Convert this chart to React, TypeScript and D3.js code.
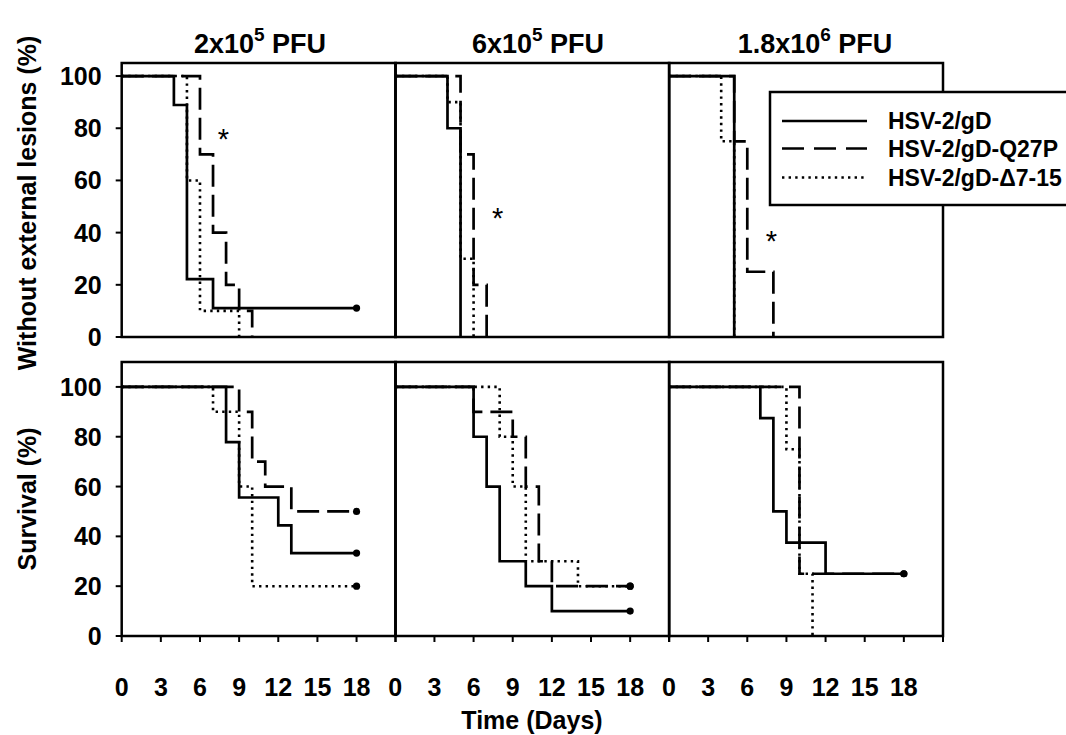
import React from "react";
import * as d3 from "d3";

type Pt = [number, number];

// ---- Column titles (dose) ----
const doseBase = ["2x10", "6x10", "1.8x10"];
const doseExp = ["5", "5", "6"];

// ---- Series names ----
const seriesNames = ["HSV-2/gD", "HSV-2/gD-Q27P", "HSV-2/gD-\u03947-15"];

// ---- Without external lesions (%) ----
const lesion0_gD: Pt[] = [[0, 100], [4, 88.9], [5, 22.2], [7, 11.1], [18, 11.1]];
const lesion0_Q27P: Pt[] = [[0, 100], [6, 70], [7, 40], [8, 20], [9, 10], [10, 0]];
const lesion0_d7: Pt[] = [[0, 100], [5, 60], [6, 10], [9, 0]];
const lesion1_gD: Pt[] = [[0, 100], [4, 80], [5, 0]];
const lesion1_Q27P: Pt[] = [[0, 100], [5, 70], [6, 20], [7, 0]];
const lesion1_d7: Pt[] = [[0, 100], [4, 90], [5, 30], [6, 0]];
const lesion2_gD: Pt[] = [[0, 100], [5, 0]];
const lesion2_Q27P: Pt[] = [[0, 100], [5, 75], [6, 25], [8, 0]];
const lesion2_d7: Pt[] = [[0, 100], [4, 75], [5, 0]];

// ---- Survival (%) ----
const surv0_gD: Pt[] = [[0, 100], [8, 77.8], [9, 55.6], [12, 44.4], [13, 33.3], [18, 33.3]];
const surv0_Q27P: Pt[] = [[0, 100], [9, 90], [10, 70], [11, 60], [13, 50], [18, 50]];
const surv0_d7: Pt[] = [[0, 100], [7, 90], [9, 60], [10, 20], [18, 20]];
const surv1_gD: Pt[] = [[0, 100], [6, 80], [7, 60], [8, 30], [10, 20], [12, 10], [18, 10]];
const surv1_Q27P: Pt[] = [[0, 100], [6, 90], [9, 80], [10, 60], [11, 30], [12, 20], [18, 20]];
const surv1_d7: Pt[] = [[0, 100], [8, 80], [9, 60], [10, 30], [14, 20], [18, 20]];
const surv2_gD: Pt[] = [[0, 100], [7, 87.5], [8, 50], [9, 37.5], [12, 25], [18, 25]];
const surv2_Q27P: Pt[] = [[0, 100], [10, 25], [18, 25]];
const surv2_d7: Pt[] = [[0, 100], [9, 75], [10, 25], [11, 0]];

// significance markers (day, value) in the lesion panels
const asteriskPos: Pt[] = [[7.8, 78], [7.85, 48], [7.85, 39]];

const xTicks = [0, 3, 6, 9, 12, 15, 18];
const yTicks = [0, 20, 40, 60, 80, 100];
const xMax = 21;
const endDay = 18;

const lesionData = [
  [lesion0_gD, lesion0_Q27P, lesion0_d7],
  [lesion1_gD, lesion1_Q27P, lesion1_d7],
  [lesion2_gD, lesion2_Q27P, lesion2_d7],
];
const survData = [
  [surv0_gD, surv0_Q27P, surv0_d7],
  [surv1_gD, surv1_Q27P, surv1_d7],
  [surv2_gD, surv2_Q27P, surv2_d7],
];

const FONT = "'Liberation Sans', Arial, Helvetica, sans-serif";
const styles = [
  { dash: undefined as string | undefined, width: 2.7 },
  { dash: "22,8", width: 2.7 },
  { dash: "2.4,4.2", width: 2.6 },
];

const colX = [121.7, 395.3, 669];
const panelW = 274;
const rows = [
  { top: 63, bottom: 337, yMax: 105, title: "Without external lesions (%)", data: lesionData },
  { top: 362, bottom: 636, yMax: 110, title: "Survival (%)", data: survData },
];

function Panel({ ci, ri }: { ci: number; ri: number }) {
  const row = rows[ri];
  const x = d3.scaleLinear().domain([0, xMax]).range([colX[ci], colX[ci] + panelW]);
  const y = d3.scaleLinear().domain([0, row.yMax]).range([row.bottom, row.top]);
  const line = d3
    .line<Pt>()
    .x((d) => x(d[0]))
    .y((d) => y(d[1]))
    .curve(d3.curveStepAfter);
  const series = row.data[ci];
  const order = [2, 1, 0];
  return (
    <g>
      <rect
        x={x(0)}
        y={y(row.yMax)}
        width={x(xMax) - x(0)}
        height={y(0) - y(row.yMax)}
        fill="none"
        stroke="#000"
        strokeWidth={2.5}
      />
      {ci === 0 &&
        yTicks.map((t) => (
          <g key={"yt" + t}>
            <line x1={x(0) - 6} x2={x(0)} y1={y(t)} y2={y(t)} stroke="#000" strokeWidth={2} />
            <text
              x={x(0) - 20}
              y={y(t)}
              textAnchor="end"
              dominantBaseline="central"
              fontSize={25}
              fontWeight="bold"
              fontFamily={FONT}
            >
              {t}
            </text>
          </g>
        ))}
      {ri === 1 &&
        [...xTicks, xMax].map((t) => (
          <line key={"xt" + t} x1={x(t)} x2={x(t)} y1={y(0)} y2={y(0) + 6} stroke="#000" strokeWidth={2} />
        ))}
      {ri === 1 &&
        xTicks.map((t) => (
          <text
            key={"xl" + t}
            x={x(t)}
            y={y(0) + 60}
            textAnchor="middle"
            fontSize={25}
            fontWeight="bold"
            fontFamily={FONT}
          >
            {t}
          </text>
        ))}
      {order.map((si) => (
        <path
          key={"s" + si}
          d={line(series[si]) || ""}
          fill="none"
          stroke="#000"
          strokeWidth={styles[si].width}
          strokeDasharray={styles[si].dash}
        />
      ))}
      {order.map((si) => {
        const last = series[si][series[si].length - 1];
        if (last[0] !== endDay || last[1] <= 0) return null;
        return <circle key={"c" + si} cx={x(last[0])} cy={y(last[1])} r={3.6} fill="#000" />;
      })}
      {ri === 0 && (
        <text
          x={x(asteriskPos[ci][0])}
          y={y(asteriskPos[ci][1]) + 16}
          textAnchor="middle"
          fontSize={29}
          fontFamily={FONT}
        >
          *
        </text>
      )}
    </g>
  );
}

export default function App() {
  const titleCenters = [260, 538, 815];
  return (
    <svg
      width={1066}
      height={735}
      style={{ position: "absolute", left: 0, top: 0, background: "#fff" }}
      fontFamily={FONT}
    >
      <rect x={0} y={0} width={1066} height={735} fill="#fff" />
      {rows.map((r, ri) => colX.map((_, ci) => <Panel key={ri + "-" + ci} ci={ci} ri={ri} />))}
      {doseBase.map((b, i) => (
        <text key={"t" + i} x={titleCenters[i]} y={53} textAnchor="middle" fontSize={27} fontWeight="bold">
          {b}
          <tspan fontSize={19} dy={-12}>
            {doseExp[i]}
          </tspan>
          <tspan dy={12}> PFU</tspan>
        </text>
      ))}
      {rows.map((r, ri) => (
        <text
          key={"yl" + ri}
          transform={`translate(36,${(r.top + r.bottom) / 2 + (ri === 0 ? 3 : 0)}) rotate(-90)`}
          textAnchor="middle"
          fontSize={25}
          fontWeight="bold"
        >
          {r.title}
        </text>
      ))}
      <text x={532} y={729} textAnchor="middle" fontSize={25} fontWeight="bold">
        Time (Days)
      </text>
      {/* legend */}
      <g>
        <rect x={770} y={92} width={310} height={113} fill="#fff" stroke="#000" strokeWidth={2.5} />
        {seriesNames.map((n, i) => {
          const yy = [121, 148.5, 177.5][i];
          return (
            <g key={"lg" + i}>
              <line
                x1={782}
                x2={867}
                y1={yy}
                y2={yy}
                stroke="#000"
                strokeWidth={styles[i].width}
                strokeDasharray={i === 1 ? "22,10" : styles[i].dash}
              />
              <text x={888} y={yy} dominantBaseline="central" fontSize={23} fontWeight="bold">
                {n}
              </text>
            </g>
          );
        })}
      </g>
    </svg>
  );
}
